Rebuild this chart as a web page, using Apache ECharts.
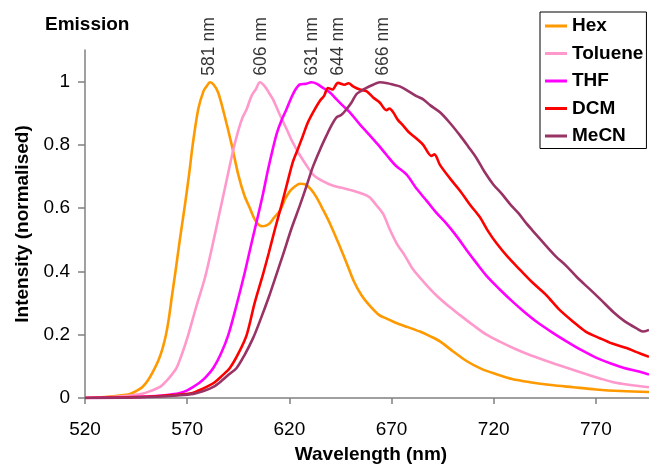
<!DOCTYPE html>
<html>
<head>
<meta charset="utf-8">
<script src="https://cdn.jsdelivr.net/npm/echarts@6/dist/echarts.min.js"></script>
<style>html,body{margin:0;padding:0;background:#fff;}#c{width:649px;height:469px;}</style>
</head>
<body>
<div id="c"></div>
<script>
// ---- data ----
const seriesNames = ['Hex', 'Toluene', 'THF', 'DCM', 'MeCN'];
const xTicks = [520, 570, 620, 670, 720, 770];
const yTicks = [0, 0.2, 0.4, 0.6, 0.8, 1];
const peakNm = [581, 606, 631, 644, 666];
const peakLabels = ['581 nm', '606 nm', '631 nm', '644 nm', '666 nm'];

const hexWl = [520,530,535,540,542,545,548,551,553.4,556,558,559.6,561,562.5,564.5,566.4,568.9,571,572.7,575.4,578,579.5,581.2,583,585.2,588,591.8,595,598,600.7,603,605,607.1,610,612.5,615.4,618,620.3,623,625.1,628,630.5,633.3,636.5,639.9,644,648,651.5,655.4,660,664,667.6,672,678,683.9,689,693.7,700,706.7,714,721.4,729,737.7,748,758.9,770,782,796];
const hexI  = [0,0.003,0.006,0.01,0.013,0.022,0.034,0.058,0.085,0.12,0.158,0.199,0.25,0.32,0.41,0.50,0.61,0.71,0.80,0.913,0.97,0.985,0.998,0.99,0.965,0.9,0.80,0.706,0.64,0.60,0.565,0.548,0.543,0.55,0.57,0.592,0.63,0.654,0.67,0.677,0.675,0.66,0.634,0.595,0.551,0.49,0.427,0.37,0.324,0.287,0.262,0.251,0.238,0.224,0.21,0.195,0.179,0.148,0.117,0.092,0.075,0.06,0.05,0.041,0.034,0.027,0.022,0.019];

const tolWl = [520,530,538,544,548.5,552,556.7,560,562.5,564.8,567.5,570.5,574.5,578.7,582.3,586,589.7,592.4,595,597,599.1,601.5,603.5,605.6,608,610,612,615,618.6,621.5,625.1,628.4,631.6,635,639.8,645,651.2,656,659.4,662.5,665.9,669,672.5,676.5,680.6,686,692,698,703.5,710,716.5,723,729.5,738,745.9,755,765.4,772,778.5,786,796];
const tolI  = [0,0.002,0.005,0.009,0.014,0.022,0.035,0.055,0.074,0.095,0.14,0.199,0.29,0.38,0.48,0.59,0.70,0.78,0.845,0.885,0.913,0.955,0.975,0.998,0.985,0.965,0.944,0.90,0.851,0.81,0.768,0.735,0.706,0.69,0.675,0.665,0.655,0.645,0.634,0.61,0.582,0.535,0.489,0.45,0.406,0.365,0.324,0.29,0.262,0.23,0.2,0.178,0.158,0.135,0.117,0.097,0.075,0.062,0.05,0.042,0.034];

const thfWl = [520,535,545,552,558,562,566.5,570,573,576,579,582.8,586.5,590.1,594,598.3,601.5,604.8,607.1,609.5,612,614,616,618.6,621,623,625.1,628,630.8,633.5,636.5,640,643.1,646,649.6,654.5,659.4,663.5,667.6,672,677.4,682.2,687.1,692,696.9,702,706.7,711.5,716.5,723,729.5,735,741,748,755.6,763,770.3,777,783.4,790,796];
const thfI  = [0,0.001,0.003,0.005,0.008,0.011,0.016,0.024,0.035,0.048,0.065,0.095,0.14,0.199,0.29,0.40,0.49,0.58,0.645,0.72,0.79,0.84,0.875,0.913,0.95,0.975,0.991,0.993,0.998,0.993,0.98,0.965,0.944,0.925,0.903,0.865,0.830,0.80,0.768,0.735,0.706,0.662,0.624,0.585,0.551,0.51,0.468,0.427,0.386,0.343,0.303,0.272,0.241,0.21,0.179,0.151,0.127,0.11,0.096,0.085,0.074];

const dcmWl = [520,540,550,558,565,571.4,575,579.5,583.5,587,590.9,595,599.1,603,607.1,610,613,616.1,619,621.8,624.3,626.7,629,631.6,634.9,637,638.9,641,643.8,647,649,651.2,654.5,657.7,661,664.2,667.5,669,670.8,673,675.7,678.5,682.2,685.5,689.5,691,693.7,698.5,703.5,708.5,713.2,717,721.4,727,732.8,739,745.9,752,758.9,765,771.9,778,785,790,796];
const dcmI  = [0,0.002,0.004,0.007,0.01,0.014,0.022,0.035,0.05,0.07,0.095,0.14,0.199,0.30,0.391,0.46,0.535,0.608,0.68,0.748,0.789,0.83,0.87,0.903,0.939,0.955,0.98,0.975,0.996,0.99,0.995,0.985,0.975,0.97,0.95,0.934,0.91,0.915,0.903,0.88,0.861,0.84,0.82,0.80,0.765,0.77,0.737,0.695,0.655,0.61,0.572,0.53,0.489,0.445,0.406,0.365,0.324,0.28,0.241,0.21,0.189,0.172,0.158,0.145,0.13];

const mecnWl = [520,540,555,565,573,578,582.8,587,590.5,594.2,598,602.3,606,610,613.7,617,621,625.1,628.4,631.6,635,638.2,640.5,643.1,645.5,648,650.5,652.8,655,657.7,661,664.2,668,671,674,677,682.2,685.5,689,693.7,698.5,703.5,707.5,711.6,715.5,719.8,724,728,732,736.1,741,745.9,750.5,755.6,761,767,772.5,778.5,784,789.9,793,796];
const mecnI  = [0,0.001,0.004,0.008,0.013,0.022,0.035,0.055,0.075,0.095,0.135,0.19,0.25,0.32,0.391,0.455,0.535,0.608,0.67,0.732,0.785,0.830,0.86,0.887,0.895,0.913,0.935,0.96,0.97,0.98,0.99,0.998,0.995,0.99,0.985,0.975,0.954,0.944,0.925,0.903,0.87,0.830,0.795,0.758,0.715,0.675,0.645,0.613,0.585,0.551,0.515,0.479,0.447,0.417,0.38,0.344,0.31,0.272,0.243,0.22,0.21,0.215];

const colors = ['#FF9900', '#FF99CC', '#FF00FF', '#FF0000', '#993366'];
const wls = [hexWl, tolWl, thfWl, dcmWl, mecnWl];
const ints = [hexI, tolI, thfI, dcmI, mecnI];

const FONT = '"Liberation Sans", Arial, sans-serif';
const chart = echarts.init(document.getElementById('c'), null, {renderer: 'canvas'});

const lineSeries = seriesNames.map((n, i) => ({
  name: n,
  type: 'line',
  showSymbol: false,
  symbol: 'none',
  smooth: 0.3,
  data: wls[i].map((w, k) => [w, ints[i][k]]),
  lineStyle: {color: colors[i], width: 2.6},
  itemStyle: {color: colors[i]},
  animation: false,
  z: 2 + i
}));

const annot = {
  type: 'scatter',
  symbolSize: 0,
  silent: true,
  animation: false,
  data: peakNm.map((p, i) => ({value: [p, 1], label: {formatter: peakLabels[i]}})),
  label: {
    show: true,
    position: 'top',
    distance: 6,
    rotate: 90,
    align: 'left',
    verticalAlign: 'middle',
    color: '#000',
    fontSize: 17.5,
    fontFamily: FONT
  },
  z: 20
};

chart.setOption({
  backgroundColor: '#fff',
  animation: false,
  color: colors,
  title: {
    text: 'Emission',
    left: 45, top: 15, padding: 0,
    textStyle: {fontSize: 19, fontWeight: 'bold', color: '#000', fontFamily: FONT}
  },
  legend: {
    data: seriesNames,
    orient: 'vertical',
    left: 540, top: 12,
    padding: [4.5, 3, 3, 5],
    itemGap: 8.5,
    itemWidth: 22, itemHeight: 3,
    icon: 'rect',
    borderColor: '#000', borderWidth: 1,
    backgroundColor: '#fff',
    textStyle: {fontSize: 19, fontWeight: 'bold', color: '#000', fontFamily: FONT, lineHeight: 19, padding: [0,0,0,0]}
  },
  grid: {left: 85, right: 0, top: 50, bottom: 65, containLabel: false},
  xAxis: {
    type: 'value', min: 520, max: 796, interval: 50,
    name: 'Wavelength (nm)', nameLocation: 'middle', nameGap: 47,
    nameTextStyle: {fontSize: 19, fontWeight: 'bold', color: '#000', fontFamily: FONT, padding: [0,0,0,8]},
    axisLine: {onZero: false, lineStyle: {color: '#808080', width: 1.5}},
    axisTick: {show: true, length: 6, customValues: xTicks, lineStyle: {color: '#808080', width: 1.5}},
    axisLabel: {customValues: xTicks, margin: 22, fontSize: 19, color: '#000', fontFamily: FONT},
    splitLine: {show: false}
  },
  yAxis: {
    type: 'value', min: 0, max: 1.1,
    name: 'Intensity (normalised)', nameLocation: 'middle', nameGap: 53,
    nameTextStyle: {fontSize: 19, fontWeight: 'bold', color: '#000', fontFamily: FONT},
    axisLine: {show: true, onZero: false, lineStyle: {color: '#808080', width: 1.5}},
    axisTick: {show: true, length: 7, customValues: yTicks, lineStyle: {color: '#808080', width: 1.5}},
    axisLabel: {customValues: yTicks, margin: 15, fontSize: 19, color: '#000', fontFamily: FONT},
    splitLine: {show: false}
  },
  series: lineSeries.concat([annot])
});
</script>
</body>
</html>
